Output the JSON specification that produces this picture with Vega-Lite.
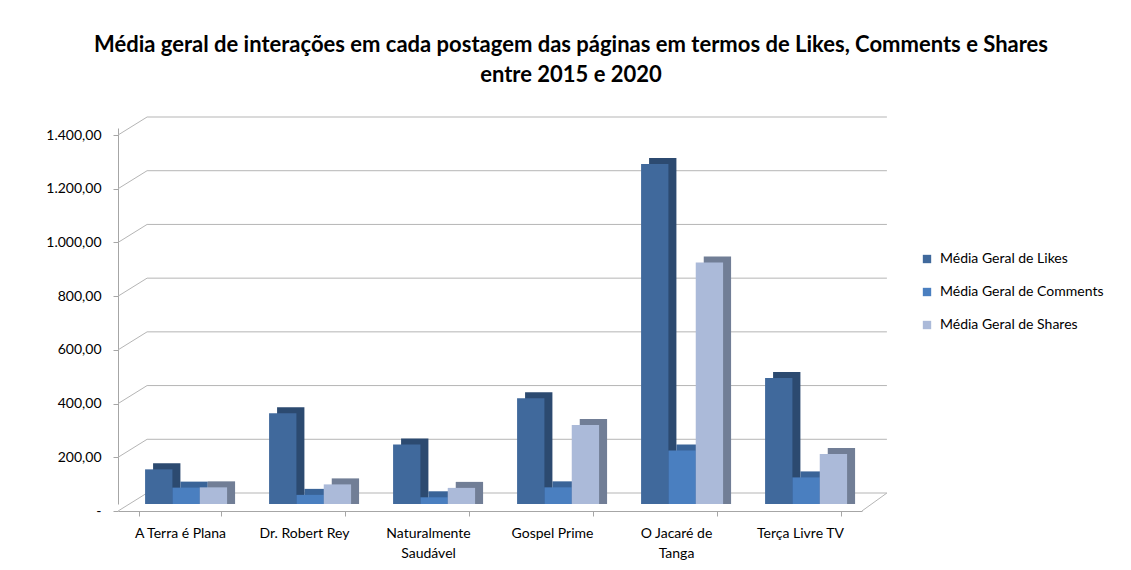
{
  "$schema": "https://vega.github.io/schema/vega-lite/v6.json",
  "width": 744,
  "height": 376,
  "autosize": {"type": "none"},
  "padding": {"left": 118, "top": 128, "right": 269, "bottom": 66},
  "background": "white",
  "title": {
    "text": ["Média geral de interações em cada postagem das páginas em termos de Likes, Comments e Shares", "entre 2015 e 2020"],
    "font": "Lato",
    "fontSize": 22,
    "fontWeight": "bold",
    "color": "#000000",
    "lineHeight": 30,
    "anchor": "middle",
    "dx": 81,
    "offset": 30
  },
  "datasets": {
    "bars": [
      {"page": "A Terra é Plana", "metric": "Média Geral de Likes", "value": 129},
      {"page": "A Terra é Plana", "metric": "Média Geral de Comments", "value": 61},
      {"page": "A Terra é Plana", "metric": "Média Geral de Shares", "value": 62},
      {"page": "Dr. Robert Rey", "metric": "Média Geral de Likes", "value": 338},
      {"page": "Dr. Robert Rey", "metric": "Média Geral de Comments", "value": 34},
      {"page": "Dr. Robert Rey", "metric": "Média Geral de Shares", "value": 73},
      {"page": "Naturalmente Saudável", "metric": "Média Geral de Likes", "value": 222},
      {"page": "Naturalmente Saudável", "metric": "Média Geral de Comments", "value": 25},
      {"page": "Naturalmente Saudável", "metric": "Média Geral de Shares", "value": 60},
      {"page": "Gospel Prime", "metric": "Média Geral de Likes", "value": 394},
      {"page": "Gospel Prime", "metric": "Média Geral de Comments", "value": 62},
      {"page": "Gospel Prime", "metric": "Média Geral de Shares", "value": 294},
      {"page": "O Jacaré de Tanga", "metric": "Média Geral de Likes", "value": 1266},
      {"page": "O Jacaré de Tanga", "metric": "Média Geral de Comments", "value": 199},
      {"page": "O Jacaré de Tanga", "metric": "Média Geral de Shares", "value": 899},
      {"page": "Terça Livre TV", "metric": "Média Geral de Likes", "value": 469},
      {"page": "Terça Livre TV", "metric": "Média Geral de Comments", "value": 99},
      {"page": "Terça Livre TV", "metric": "Média Geral de Shares", "value": 186}
    ],
    "grid": [
      {"v": 0}, {"v": 200}, {"v": 400}, {"v": 600}, {"v": 800}, {"v": 1000}, {"v": 1200}, {"v": 1400}
    ]
  },
  "layer": [
    {
      "data": {"name": "grid"},
      "mark": {"type": "rule", "color": "#b5b5b5", "strokeWidth": 1, "xOffset": 8, "x2Offset": 46, "yOffset": -11},
      "encoding": {
        "x": {"datum": "A Terra é Plana", "type": "nominal", "bandPosition": 0, "scale": {"domain": ["A Terra é Plana", "Dr. Robert Rey", "Naturalmente Saudável", "Gospel Prime", "O Jacaré de Tanga", "Terça Livre TV"], "paddingInner": 0.34, "paddingOuter": 0.17}},
        "x2": {"datum": "Terça Livre TV", "bandPosition": 1},
        "y": {"field": "v", "type": "quantitative", "scale": {"domain": [0, 1400], "nice": false}, "title": null, "axis": {"values": [0, 200, 400, 600, 800, 1000, 1200, 1400]}}
      }
    },
    {
      "data": {"name": "grid"},
      "mark": {"type": "rule", "color": "#b5b5b5", "strokeWidth": 1, "xOffset": -21, "x2Offset": 8, "yOffset": 7, "y2Offset": -11},
      "encoding": {
        "x": {"datum": "A Terra é Plana", "type": "nominal", "bandPosition": 0},
        "x2": {"datum": "A Terra é Plana", "bandPosition": 0},
        "y": {"field": "v", "type": "quantitative", "title": null},
        "y2": {"field": "v"}
      }
    },
    {
      "data": {"values": [{"v": 0}]},
      "mark": {"type": "rule", "color": "#b5b5b5", "strokeWidth": 1, "xOffset": 21, "x2Offset": 46, "yOffset": 7, "y2Offset": -11},
      "encoding": {
        "x": {"datum": "Terça Livre TV", "type": "nominal", "bandPosition": 1},
        "x2": {"datum": "Terça Livre TV", "bandPosition": 1},
        "y": {"field": "v", "type": "quantitative", "title": null},
        "y2": {"field": "v"}
      }
    },
    {
      "data": {"name": "bars"},
      "mark": {"type": "bar"},
      "encoding": {
        "x": {"field": "page", "type": "nominal", "sort": null, "title": null},
        "xOffset": {"field": "metric", "type": "nominal", "sort": ["Média Geral de Likes", "Média Geral de Comments", "Média Geral de Shares"], "scale": {"range": [14, 96]}},
        "y": {"field": "value", "type": "quantitative", "title": null},
        "y2": {"datum": 0},
        "yOffset": {"value": -6},
        "color": {
          "field": "metric", "type": "nominal",
          "scale": {"domain": ["Média Geral de Likes", "Média Geral de Comments", "Média Geral de Shares"], "range": ["#2c4a70", "#3a6498", "#717e96"]},
          "legend": null
        }
      }
    },
    {
      "data": {"name": "bars"},
      "mark": {"type": "bar"},
      "encoding": {
        "x": {"field": "page", "type": "nominal", "sort": null, "title": null},
        "xOffset": {"field": "metric", "type": "nominal", "sort": ["Média Geral de Likes", "Média Geral de Comments", "Média Geral de Shares"], "scale": {"range": [6, 88]}},
        "y": {"field": "value", "type": "quantitative", "title": null},
        "color": {
          "field": "metric", "type": "nominal",
          "scale": {"domain": ["Média Geral de Likes", "Média Geral de Comments", "Média Geral de Shares"], "range": ["#40699c", "#4a7fc0", "#abbad9"]},
          "legend": {
            "orient": "none", "legendX": 802, "legendY": 124, "title": null,
            "symbolType": "square", "symbolSize": 70, "symbolStrokeWidth": 0,
            "labelFontSize": 14, "labelFont": "Lato", "labelColor": "#000000",
            "labelLimit": 260,
            "rowPadding": 19, "labelOffset": 6
          }
        }
      }
    }
  ],
  "resolve": {"scale": {"color": "independent", "xOffset": "independent"}},
  "config": {
    "locale": {"number": {"decimal": ",", "thousands": ".", "grouping": [3], "currency": ["R$", ""]}},
    "view": {"stroke": null},
    "axisY": {
      "format": ",.2f",
      "labelExpr": "datum.value == 0 ? '-' : datum.label",
      "grid": false,
      "tickOffset": 7,
      "tickSize": 5,
      "labelPadding": 12,
      "labelFont": "Lato",
      "labelFontSize": 14,
      "labelColor": "#000000",
      "domainColor": "#a6a6a6",
      "tickColor": "#a6a6a6"
    },
    "axisX": {
      "offset": 7,
      "tickBand": "extent",
      "tickSize": 5,
      "labelAngle": 0,
      "labelPadding": 10,
      "labelFont": "Lato",
      "labelFontSize": 14,
      "labelColor": "#000000",
      "labelLineHeight": 20,
      "labelExpr": "datum.label == 'Naturalmente Saudável' ? ['Naturalmente', 'Saudável'] : datum.label == 'O Jacaré de Tanga' ? ['O Jacaré de', 'Tanga'] : datum.label",
      "domainColor": "#a6a6a6",
      "tickColor": "#a6a6a6",
      "grid": false
    }
  }
}
